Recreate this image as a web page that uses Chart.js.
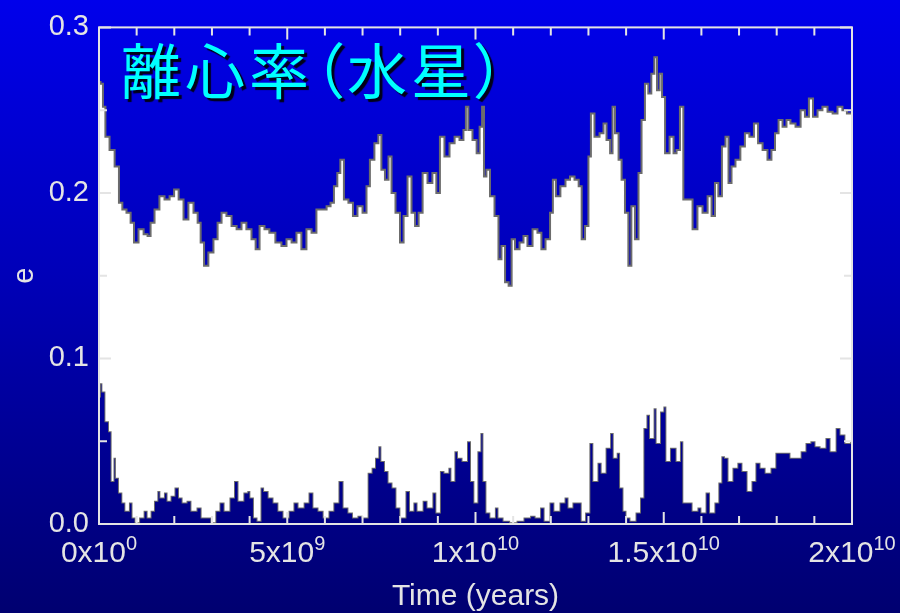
<!DOCTYPE html>
<html lang="ja">
<head>
<meta charset="utf-8">
<title>離心率（水星）</title>
<script src="https://cdn.jsdelivr.net/npm/chart.js@4.4.1/dist/chart.umd.min.js"></script>
<style>
  html, body { margin: 0; padding: 0; width: 900px; height: 613px; overflow: hidden; }
  body { background: linear-gradient(to bottom, #0000eb 0%, #0000b8 45%, #000070 100%); position: relative; }
  #chart { position: absolute; left: 0; top: 0; }
  #heading {
    position: absolute; left: 121px; top: 38px;
    font-family: "Noto Sans CJK JP", "Noto Sans CJK SC", sans-serif;
    font-size: 60px; line-height: 1; font-weight: 400;
    color: #00ffff; white-space: nowrap;
    font-feature-settings: "palt";
    letter-spacing: 4px;
    text-shadow: 3px 3px 1px #000018;
  }
</style>
</head>
<body>
<canvas id="chart" width="900" height="613"></canvas>
<div id="heading">離心率（水星）</div>
<script>
// Time in units of 1e9 years; eccentricity envelope of Mercury's orbit.
const upperTime = [0,0.08,0.13,0.21,0.35,0.48,0.58,0.66,0.80,0.88,
  0.98,1.12,1.25,1.33,1.41,1.54,1.67,1.81,1.94,2.05,
  2.18,2.31,2.44,2.58,2.66,2.74,2.84,2.97,3.11,3.19,
  3.32,3.45,3.59,3.72,3.85,3.98,4.12,4.20,4.33,4.46,
  4.59,4.78,4.91,5.05,5.18,5.31,5.44,5.58,5.71,5.84,
  5.98,6.11,6.19,6.29,6.37,6.45,6.56,6.69,6.80,6.93,
  7.07,7.14,7.25,7.38,7.46,7.54,7.65,7.73,7.81,7.94,
  8.05,8.13,8.26,8.34,8.45,8.53,8.66,8.79,8.92,9.00,
  9.11,9.24,9.38,9.51,9.64,9.72,9.77,9.85,9.99,10.07,
  10.15,10.20,10.25,10.33,10.44,10.57,10.65,10.73,10.84,10.92,
  11.00,11.10,11.24,11.31,11.45,11.58,11.71,11.79,11.93,12.03,
  12.08,12.19,12.32,12.46,12.56,12.70,12.78,12.86,12.96,13.04,
  13.09,13.23,13.36,13.44,13.52,13.63,13.65,13.76,13.84,13.92,
  14.02,14.10,14.18,14.29,14.37,14.45,14.55,14.63,14.71,14.79,
  14.85,14.93,14.98,15.09,15.22,15.30,15.38,15.48,15.56,15.70,
  15.83,15.96,16.10,16.23,16.31,16.41,16.49,16.60,16.68,16.76,
  16.84,16.97,17.10,17.21,17.34,17.45,17.56,17.69,17.82,17.90,
  18.01,18.09,18.22,18.30,18.43,18.57,18.70,18.80,18.91,19.02,
  19.15,19.28,19.42,19.55,19.68,19.81,19.92,20.0];

const eMax = [0.267,0.266,0.252,0.234,0.226,0.216,0.194,0.190,0.188,0.182,
  0.170,0.178,0.175,0.174,0.182,0.190,0.198,0.196,0.198,0.202,
  0.196,0.184,0.194,0.188,0.182,0.170,0.156,0.164,0.172,0.182,
  0.188,0.186,0.180,0.178,0.182,0.178,0.172,0.166,0.180,0.178,
  0.176,0.170,0.168,0.172,0.170,0.176,0.166,0.178,0.176,0.190,
  0.190,0.192,0.194,0.204,0.212,0.220,0.196,0.194,0.186,0.192,
  0.188,0.204,0.220,0.230,0.235,0.214,0.208,0.222,0.200,0.188,
  0.170,0.186,0.210,0.188,0.180,0.188,0.212,0.206,0.212,0.200,
  0.234,0.222,0.230,0.234,0.232,0.238,0.252,0.238,0.232,0.224,
  0.240,0.252,0.210,0.214,0.198,0.186,0.160,0.168,0.146,0.144,
  0.172,0.166,0.170,0.174,0.168,0.178,0.176,0.166,0.172,0.188,
  0.208,0.198,0.204,0.208,0.210,0.208,0.204,0.172,0.180,0.222,
  0.248,0.234,0.236,0.242,0.232,0.224,0.252,0.236,0.220,0.208,
  0.188,0.156,0.192,0.172,0.212,0.244,0.266,0.260,0.272,0.282,
  0.262,0.272,0.258,0.224,0.234,0.224,0.226,0.252,0.196,0.196,
  0.178,0.192,0.188,0.198,0.186,0.206,0.198,0.228,0.234,0.206,
  0.216,0.220,0.228,0.236,0.234,0.242,0.230,0.226,0.220,0.226,
  0.236,0.244,0.240,0.244,0.242,0.240,0.250,0.246,0.257,0.246,
  0.250,0.252,0.249,0.248,0.252,0.250,0.248,0.248];

const lowerTime = [0,0.05,0.13,0.21,0.32,0.35,0.42,0.48,0.58,0.66,
  0.74,0.85,0.93,1.01,1.12,1.25,1.33,1.41,1.51,1.59,
  1.67,1.78,1.86,1.94,2.07,2.18,2.26,2.39,2.52,2.66,
  2.79,2.92,3.05,3.13,3.27,3.40,3.53,3.64,3.77,3.90,
  3.98,4.06,4.17,4.25,4.33,4.44,4.57,4.70,4.83,4.97,
  5.10,5.23,5.37,5.50,5.63,5.76,5.90,6.03,6.16,6.29,
  6.43,6.56,6.69,6.80,6.93,7.07,7.20,7.28,7.38,7.46,
  7.54,7.65,7.73,7.86,7.94,8.07,8.21,8.31,8.39,8.53,
  8.66,8.79,8.92,9.00,9.11,9.24,9.32,9.40,9.48,9.59,
  9.72,9.83,9.93,10.01,10.09,10.17,10.25,10.33,10.46,10.57,
  10.65,10.84,11.00,11.18,11.37,11.53,11.66,11.77,11.90,12.03,
  12.16,12.30,12.43,12.51,12.64,12.78,12.86,12.96,13.09,13.17,
  13.31,13.39,13.52,13.63,13.71,13.79,13.89,13.97,14.05,14.18,
  14.32,14.42,14.50,14.58,14.69,14.77,14.85,14.95,15.03,15.11,
  15.22,15.30,15.38,15.48,15.56,15.70,15.83,15.96,16.04,16.18,
  16.28,16.41,16.49,16.57,16.68,16.76,16.89,17.02,17.16,17.29,
  17.37,17.50,17.64,17.77,17.90,18.03,18.17,18.30,18.43,18.57,
  18.70,18.83,18.96,19.10,19.23,19.36,19.50,19.63,19.76,19.89,
  20.0];

const eMin = [0.077,0.085,0.080,0.062,0.056,0.026,0.040,0.028,0.019,0.013,
  0.008,0.013,0.004,0.001,0.004,0.008,0.004,0.008,0.014,0.020,
  0.016,0.019,0.014,0.017,0.022,0.016,0.013,0.014,0.008,0.010,
  0.004,0.004,0.001,0.008,0.013,0.008,0.016,0.026,0.014,0.019,
  0.020,0.016,0.004,0.002,0.022,0.020,0.016,0.013,0.008,0.004,
  0.008,0.013,0.010,0.013,0.019,0.010,0.008,0.004,0.008,0.013,
  0.026,0.010,0.007,0.004,0.005,0.004,0.031,0.034,0.040,0.047,
  0.038,0.032,0.025,0.022,0.010,0.004,0.020,0.008,0.013,0.008,
  0.014,0.010,0.019,0.007,0.032,0.031,0.034,0.026,0.044,0.040,
  0.038,0.050,0.026,0.013,0.044,0.055,0.026,0.007,0.004,0.010,
  0.004,0.002,0.001,0.002,0.004,0.005,0.004,0.010,0.002,0.013,
  0.008,0.013,0.016,0.010,0.013,0.013,0.002,0.007,0.049,0.026,
  0.037,0.031,0.046,0.055,0.040,0.043,0.022,0.008,0.004,0.002,
  0.007,0.016,0.058,0.066,0.052,0.070,0.049,0.068,0.071,0.038,
  0.046,0.046,0.038,0.050,0.013,0.013,0.008,0.010,0.007,0.019,
  0.007,0.013,0.025,0.041,0.040,0.026,0.034,0.037,0.032,0.020,
  0.026,0.037,0.034,0.031,0.034,0.043,0.043,0.043,0.040,0.040,
  0.044,0.049,0.050,0.047,0.046,0.052,0.044,0.058,0.054,0.049,
  0.050];

const xTickYears = [0, 5e9, 1e10, 1.5e10, 2e10];
const yTickValues = [0.0, 0.1, 0.2, 0.3];

const LABEL_FONT = '"Liberation Sans", Arial, Helvetica, sans-serif';
const INK = '#e4e4e4';

// Gnuplot-style frame with inward tick marks on all four sides,
// plus x tick labels written as mantissa x 10^exponent.
const framePlugin = {
  id: 'framePlugin',
  afterDatasetsDraw(chart) {
    const { ctx, chartArea: a, scales: { x, y } } = chart;
    ctx.save();
    ctx.strokeStyle = INK;
    ctx.lineWidth = 2;
    ctx.beginPath();
    for (let g = 0; g <= 20; g += 1) {
      const px = x.getPixelForValue(g);
      const len = g % 5 === 0 ? 12 : 8;
      ctx.moveTo(px, a.bottom); ctx.lineTo(px, a.bottom - len);
      ctx.moveTo(px, a.top); ctx.lineTo(px, a.top + len);
    }
    for (let i = 0; i <= 6; i++) {
      const py = y.getPixelForValue(i * 0.05);
      const len = i % 2 === 0 ? 12 : 8;
      ctx.moveTo(a.left, py); ctx.lineTo(a.left + len, py);
      ctx.moveTo(a.right, py); ctx.lineTo(a.right - len, py);
    }
    ctx.stroke();
    ctx.strokeRect(a.left, a.top, a.right - a.left, a.bottom - a.top);
    ctx.restore();
  },
  afterDraw(chart) {
    const { ctx, scales: { x } } = chart;
    ctx.save();
    ctx.fillStyle = INK;
    ctx.textBaseline = 'alphabetic';
    ctx.textAlign = 'left';
    xTickYears.forEach(v => {
      let mant = '0', exp = '0';
      if (v !== 0) {
        const e = Math.floor(Math.log10(v));
        mant = String(+(v / Math.pow(10, e)).toFixed(2));
        exp = String(e);
      }
      const base = mant + 'x10';
      ctx.font = '30px ' + LABEL_FONT;
      const w1 = ctx.measureText(base).width;
      ctx.font = '20px ' + LABEL_FONT;
      const w2 = ctx.measureText(exp).width;
      const px = x.getPixelForValue(v / 1e9);
      const left = px - (w1 + w2) / 2;
      ctx.font = '30px ' + LABEL_FONT;
      ctx.fillText(base, left, 562);
      ctx.font = '20px ' + LABEL_FONT;
      ctx.fillText(exp, left + w1, 550);
    });
    ctx.restore();
  }
};

const toPoints = (ts, vs) => ts.map((t, i) => ({ x: t, y: vs[i] }));

new Chart(document.getElementById('chart'), {
  type: 'line',
  data: {
    datasets: [
      {
        label: 'e max',
        data: toPoints(upperTime, eMax),
        borderColor: '#6c6c6c',
        borderWidth: 2,
        backgroundColor: '#ffffff',
        fill: '+1',
        stepped: 'middle',
        pointRadius: 0
      },
      {
        label: 'e min',
        data: toPoints(lowerTime, eMin),
        borderColor: '#6c6c6c',
        borderWidth: 2,
        fill: false,
        stepped: 'middle',
        pointRadius: 0
      }
    ]
  },
  options: {
    responsive: false,
    animation: false,
    devicePixelRatio: 1,
    layout: { padding: { top: 23, right: 48, left: 0, bottom: 0 } },
    plugins: { legend: { display: false }, tooltip: { enabled: false } },
    scales: {
      x: {
        type: 'linear', min: 0, max: 20,
        grid: { display: false, drawTicks: false },
        border: { display: false },
        ticks: { display: false },
        title: {
          display: true, text: 'Time (years)', color: INK,
          font: { family: LABEL_FONT, size: 30, lineHeight: 1 },
          padding: { top: 0, bottom: 1.5 }
        },
        afterFit(scale) { scale.height = 89; }
      },
      y: {
        type: 'linear', min: 0, max: 0.3,
        grid: { display: false, drawTicks: false },
        border: { display: false },
        afterBuildTicks(scale) { scale.ticks = yTickValues.map(v => ({ value: v })); },
        ticks: {
          color: INK, padding: 10,
          font: { family: LABEL_FONT, size: 29 },
          callback: v => Number(v).toFixed(1)
        },
        title: {
          display: true, text: 'e', color: INK,
          font: { family: LABEL_FONT, size: 29, lineHeight: 1.2 },
          padding: { top: 8, bottom: 0 }
        },
        afterFit(scale) { scale.width = 99; }
      }
    }
  },
  plugins: [framePlugin]
});
</script>
</body>
</html>
